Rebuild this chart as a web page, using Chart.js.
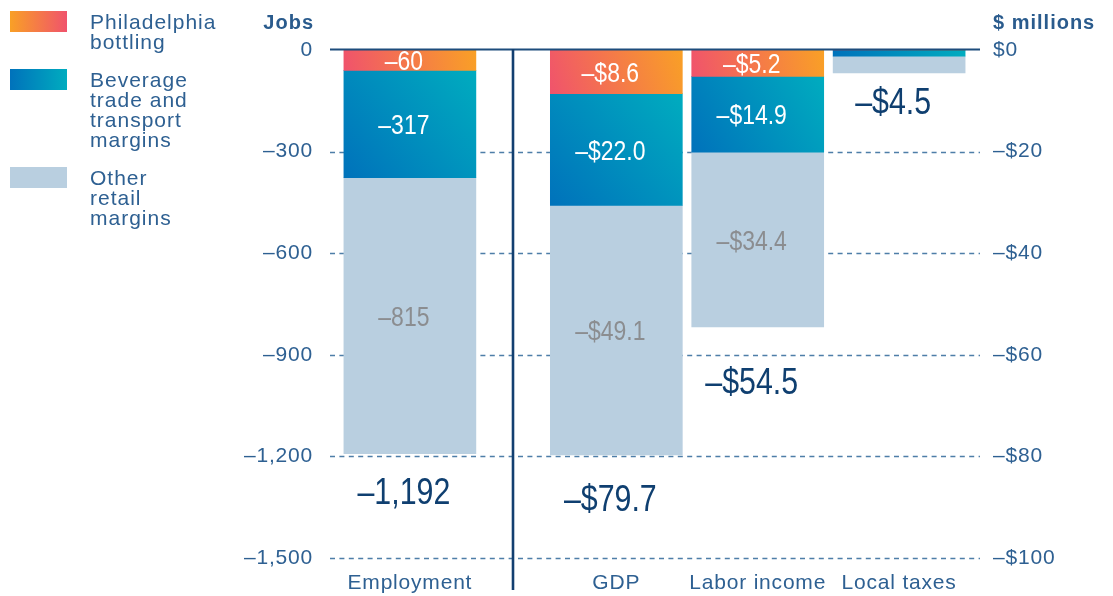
<!DOCTYPE html>
<html><head><meta charset="utf-8">
<script src="https://cdn.jsdelivr.net/npm/chart.js@4/dist/chart.umd.min.js"></script>
<style>
html,body{margin:0;padding:0;background:#fff;}
#wrap{position:relative;width:1113px;height:596px;overflow:hidden;}
#legend{position:absolute;left:10px;top:11px;font-family:'Liberation Sans',Arial,sans-serif;font-size:21px;letter-spacing:1px;color:#2e6092;}
.item{position:relative;margin-bottom:18px;}
.sw{position:absolute;left:0;top:0;width:57px;height:21px;}
.tx{position:relative;left:80px;top:1px;line-height:20px;white-space:pre;}
</style></head>
<body><div id="wrap"><canvas id="c" width="1113" height="596"></canvas><div id="legend"></div></div>
<script>
// ---- data ----
const categories = ['Employment', 'GDP', 'Labor income', 'Local taxes'];
const catPos = [1, 2.46, 3.46, 4.46];
const seriesNames = ['Philadelphia\nbottling', 'Beverage\ntrade and\ntransport\nmargins', 'Other\nretail\nmargins'];
const jobsBottling = [-60];
const jobsBeverage = [-317];
const jobsOther = [-815];
const usdBottling = [-8.6, -5.2, 0];
const usdBeverage = [-22.0, -14.9, -1.2];
const usdOther = [-49.1, -34.4, -3.3];
const jobsTicks = [0, -300, -600, -900, -1200, -1500];
const usdTicks = [0, -20, -40, -60, -80, -100];

// ---- styles ----
const TXT = '#2e6092';
const NAVY = '#0f3f70';
const BAR_W = 132;
const FONT = "'Liberation Sans', Arial, sans-serif";
const swatches = ['linear-gradient(to right,#f9a026,#f0536c)', 'linear-gradient(to right,#0072bb,#00acbf)', '#b9cfe0'];
const totalOffsets = [37, 43, 54, 28];

const fmtJobs = v => (v < 0 ? '–' : '') + Math.abs(v).toLocaleString('en-US');
const fmtUsd = v => (v < 0 ? '–' : '') + '$' + Math.abs(v).toFixed(1);
const formatters = { yL: fmtJobs, yR: fmtUsd };

// legend
const lg = document.getElementById('legend');
seriesNames.forEach((n, i) => {
  const it = document.createElement('div'); it.className = 'item';
  const sw = document.createElement('div'); sw.className = 'sw'; sw.style.background = swatches[i];
  const tx = document.createElement('div'); tx.className = 'tx'; tx.textContent = n;
  it.appendChild(sw); it.appendChild(tx); lg.appendChild(it);
});

const fill = s => ctx => {
  if (s === 2) return '#b9cfe0';
  const chart = ctx.chart, raw = ctx.raw;
  if (!chart.chartArea || !raw || !chart.scales.x) return s === 0 ? '#f37b48' : '#0090be';
  const ys = chart.scales[ctx.dataset.yAxisID], xs = chart.scales.x;
  const xc = xs.getPixelForValue(raw.x), h = BAR_W / 2;
  const y0 = ys.getPixelForValue(raw.start), y1 = ys.getPixelForValue(raw.start + raw.y);
  const g = chart.ctx.createLinearGradient(xc - h, Math.max(y0, y1), xc + h, Math.min(y0, y1));
  if (s === 0) { g.addColorStop(0, '#f0536c'); g.addColorStop(1, '#f9a026'); }
  else { g.addColorStop(0, '#0072bb'); g.addColorStop(1, '#00acbf'); }
  return g;
};

function buildGroup(seriesList, offset, axis) {
  const starts = seriesList[0].map(() => 0);
  return seriesList.map((vals, s) => {
    const data = vals.map((v, i) => { const p = { x: catPos[i + offset], y: v, start: starts[i], cat: i + offset }; starts[i] += v; return p; });
    return { label: seriesNames[s], data, yAxisID: axis, seriesIndex: s, backgroundColor: fill(s), borderWidth: 0, barThickness: BAR_W };
  });
}
const datasets = [
  ...buildGroup([jobsBottling, jobsBeverage, jobsOther], 0, 'yL'),
  ...buildGroup([usdBottling, usdBeverage, usdOther], 1, 'yR')
];

function narrowText(ctx, text, x, yCenter, size, color) {
  ctx.save();
  ctx.letterSpacing = '0px';
  ctx.font = size + 'px ' + FONT;
  ctx.fillStyle = color;
  ctx.textAlign = 'center';
  ctx.textBaseline = 'alphabetic';
  ctx.translate(x, yCenter + size * 0.358);
  ctx.scale(0.82, 1);
  ctx.fillText(text, 0, 0);
  ctx.restore();
}

const decor = {
  id: 'decor',
  beforeDraw(chart) { chart.ctx.letterSpacing = '0.8px'; },
  beforeDatasetsDraw(chart) {
    const ctx = chart.ctx, yL = chart.scales.yL, ca = chart.chartArea;
    ctx.save();
    ctx.letterSpacing = '0px';
    ctx.strokeStyle = '#4e7ea8'; ctx.lineWidth = 1.4; ctx.setLineDash([5, 4.4]);
    yL.ticks.forEach(t => {
      if (t.value === 0) return;
      const y = Math.round(yL.getPixelForValue(t.value)) + 0.5;
      ctx.beginPath(); ctx.moveTo(ca.left, y); ctx.lineTo(ca.right, y); ctx.stroke();
    });
    ctx.restore();
  },
  afterDatasetsDraw(chart) {
    const ctx = chart.ctx, ca = chart.chartArea, xs = chart.scales.x, yL = chart.scales.yL;
    // zero line
    ctx.save();
    ctx.strokeStyle = '#1d4c7c'; ctx.lineWidth = 2;
    const y0 = yL.getPixelForValue(0) - 0.5;
    ctx.beginPath(); ctx.moveTo(ca.left, y0); ctx.lineTo(ca.right, y0); ctx.stroke();
    // separator
    const sx = Math.round((xs.getPixelForValue(catPos[0]) + xs.getPixelForValue(catPos[1])) / 2);
    ctx.strokeStyle = '#123f70'; ctx.lineWidth = 2.6;
    ctx.beginPath(); ctx.moveTo(sx, ca.top - 1); ctx.lineTo(sx, chart.height - 6); ctx.stroke();
    ctx.restore();
    // inside labels and totals
    const bottoms = {}, totals = {}, fmts = {}, xcs = {};
    chart.data.datasets.forEach((ds, di) => {
      const meta = chart.getDatasetMeta(di);
      const fmt = formatters[ds.yAxisID];
      meta.data.forEach((el, i) => {
        const raw = ds.data[i];
        const hgt = Math.abs(el.base - el.y);
        if (hgt >= 18) {
          narrowText(ctx, fmt(raw.y), el.x - 6, (el.y + el.base) / 2, 28, ds.seriesIndex === 2 ? '#8b8d90' : '#ffffff');
        }
        const b = Math.max(el.y, el.base);
        bottoms[raw.cat] = Math.max(bottoms[raw.cat] || 0, b);
        totals[raw.cat] = (totals[raw.cat] || 0) + raw.y;
        fmts[raw.cat] = fmt; xcs[raw.cat] = el.x;
      });
    });
    Object.keys(totals).forEach(k => {
      narrowText(ctx, fmts[k](totals[k]), xcs[k] - 6, bottoms[k] + totalOffsets[k], 37, NAVY);
    });
    // axis titles
    ctx.save();
    ctx.letterSpacing = '1px';
    ctx.font = 'bold 20px ' + FONT; ctx.fillStyle = '#2a5b8d'; ctx.textBaseline = 'alphabetic';
    ctx.textAlign = 'right'; ctx.fillText('Jobs', chart.scales.yL.right - 16, 29);
    ctx.textAlign = 'left'; ctx.fillText('$ millions', chart.scales.yR.left + 13, 29);
    ctx.restore();
  }
};

const xMin = catPos[0] - 0.565, xMax = catPos[3] + 0.572;
new Chart(document.getElementById('c'), {
  type: 'bar',
  data: { datasets },
  options: {
    responsive: false, animation: false, devicePixelRatio: 1,
    layout: { padding: { top: 50, left: 0, right: 0, bottom: 0 } },
    plugins: { legend: { display: false }, tooltip: { enabled: false } },
    scales: {
      x: {
        type: 'linear', min: xMin, max: xMax, offset: false, stacked: true,
        grid: { display: false, drawTicks: false }, border: { display: false },
        afterBuildTicks: s => { s.ticks = catPos.map(v => ({ value: v })); },
        afterFit: s => { s.height = 38; },
        ticks: { autoSkip: false, maxRotation: 0, padding: 13, color: TXT, font: { family: FONT, size: 21 }, callback: (v, i) => categories[i] }
      },
      yL: {
        type: 'linear', position: 'left', stacked: true, min: -1500, max: 0,
        grid: { display: false, drawTicks: false }, border: { display: false },
        afterBuildTicks: s => { s.ticks = jobsTicks.map(v => ({ value: v })); },
        afterFit: s => { s.width = 330; },
        ticks: { padding: 17, color: TXT, font: { family: FONT, size: 21 }, callback: v => v === 0 ? '0' : fmtJobs(v) }
      },
      yR: {
        type: 'linear', position: 'right', stacked: true, min: -100, max: 0,
        grid: { display: false, drawTicks: false }, border: { display: false },
        afterBuildTicks: s => { s.ticks = usdTicks.map(v => ({ value: v })); },
        afterFit: s => { s.width = 133; },
        ticks: { padding: 13, color: TXT, font: { family: FONT, size: 21 }, callback: v => v === 0 ? '$0' : '–$' + Math.abs(v) }
      }
    }
  },
  plugins: [decor]
});
</script>
</body></html>
